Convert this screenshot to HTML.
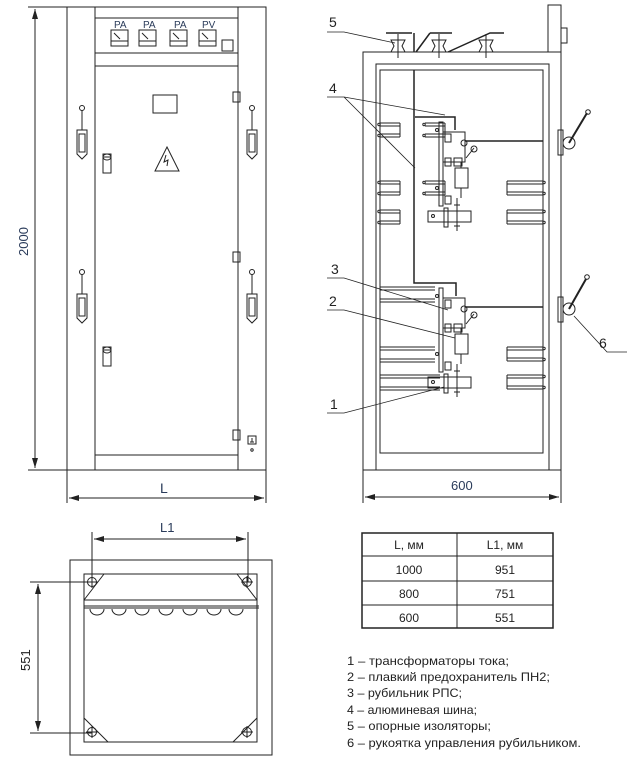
<!DOCTYPE html>
<html><head><meta charset="utf-8"><style>
html,body{margin:0;padding:0;background:#fff}
svg{display:block}
text{font-family:"Liberation Sans","DejaVu Sans",sans-serif;fill:#222}
.d text{fill:#2a3b5a}
</style></head><body>
<svg width="629" height="775" viewBox="0 0 629 775" fill="none" stroke="#222" stroke-width="1">
<defs>
<marker id="a" viewBox="0 0 10 6" refX="10" refY="3" markerWidth="10" markerHeight="6" orient="auto-start-reverse"><path d="M0,0 L10,3 L0,6 z" fill="#222" stroke="none"/></marker>
<g id="handleL">
<circle cx="0" cy="0" r="2.5"/><line x1="0" y1="2.5" x2="0" y2="22"/>
<path d="M-5,22 h10 v24 l-5,5 l-5,-5 z"/><rect x="-3" y="26" width="6" height="18"/>
</g>
<g id="cyl"><rect x="-4" y="0" width="8" height="19"/><ellipse cx="0" cy="3" rx="4" ry="3"/><line x1="-4" y1="3" x2="4" y2="3"/></g>
<g id="meter"><rect x="0" y="0" width="17" height="16"/><line x1="0" y1="11" x2="17" y2="11"/><line x1="3" y1="3" x2="9" y2="9"/></g>
<g id="rail"><path d="M0,0 h20 M0,3 h20 M0,11 h20 M0,14 h20 M20,0 v14"/><circle cx="-1" cy="1.5" r="1.2"/><circle cx="-1" cy="12.5" r="1.2"/></g>
<g id="railR"><path d="M0,0 h-36 M0,3 h-36 M0,11 h-36 M0,14 h-36 M-36,0 v14"/><circle cx="1" cy="1.5" r="1.2"/><circle cx="1" cy="12.5" r="1.2"/></g>
<g id="ins"><path d="M-7,0 h14 l-3,6 l3,6 h-14 l3,-6 z"/><line x1="0" y1="-6" x2="0" y2="18"/></g>
<g id="hole"><circle r="4.5"/><line x1="-6" y1="0" x2="6" y2="0"/><line x1="0" y1="-6" x2="0" y2="6"/></g>
</defs>

<!-- ===== FRONT VIEW ===== -->
<rect x="67" y="7" width="199" height="463"/>
<line x1="95" y1="7" x2="95" y2="470"/><line x1="238" y1="7" x2="238" y2="470"/>
<line x1="95" y1="18" x2="238" y2="18"/><line x1="95" y1="53" x2="238" y2="53"/><line x1="95" y1="66" x2="238" y2="66"/>
<line x1="95" y1="455" x2="238" y2="455"/>
<line x1="28" y1="7" x2="67" y2="7"/><line x1="28" y1="470" x2="67" y2="470"/>
<line x1="35" y1="9" x2="35" y2="468" marker-start="url(#a)" marker-end="url(#a)"/>
<g class="d"><text x="0" y="0" font-size="13" transform="translate(28,256) rotate(-90)" stroke="none">2000</text></g>
<line x1="67" y1="470" x2="67" y2="503"/><line x1="266" y1="470" x2="266" y2="503"/>
<line x1="69" y1="498" x2="264" y2="498" marker-start="url(#a)" marker-end="url(#a)"/>
<g class="d"><text x="160" y="493" font-size="14" stroke="none">L</text>
<text x="114" y="28" font-size="10" stroke="none">PA</text><text x="143" y="28" font-size="10" stroke="none">PA</text>
<text x="174" y="28" font-size="10" stroke="none">PA</text><text x="202" y="28" font-size="10" stroke="none">PV</text></g>
<use href="#meter" x="111" y="30"/><use href="#meter" x="139" y="30"/><use href="#meter" x="170" y="30"/><use href="#meter" x="199" y="30"/>
<rect x="222" y="40" width="11" height="11"/>
<rect x="153" y="95" width="24" height="18"/>
<path d="M167,147 L179,171 L155,171 Z"/><path d="M166,155 l-2,7 l4,-2 l-1,6" />
<use href="#handleL" x="82" y="108"/><use href="#handleL" x="82" y="272"/>
<use href="#handleL" x="252" y="108"/><use href="#handleL" x="252" y="272"/>
<use href="#cyl" x="107" y="154"/><use href="#cyl" x="107" y="347"/>
<rect x="233" y="92" width="7" height="10"/><rect x="233" y="252" width="7" height="10"/><rect x="233" y="430" width="7" height="10"/>
<rect x="248" y="436" width="8" height="8"/><path d="M252,438 v4 M250,442 h4"/><circle cx="252" cy="450" r="1.2"/>

<!-- ===== SIDE VIEW ===== -->
<rect x="363" y="52" width="198" height="418"/>
<rect x="376" y="64" width="173" height="406"/>
<rect x="380" y="70" width="163" height="383"/>
<rect x="548" y="5" width="13" height="47"/><rect x="561" y="28" width="6" height="15"/>
<line x1="363" y1="470" x2="363" y2="503"/><line x1="561" y1="470" x2="561" y2="503"/>
<line x1="365" y1="497" x2="559" y2="497" marker-start="url(#a)" marker-end="url(#a)"/>
<g class="d"><text x="451" y="490" font-size="13" stroke="none">600</text></g>
<!-- insulators -->
<path d="M386,33 h26 M372,52 M414,33 v19" stroke-width="1.5"/>
<path d="M430,33 h22 M416,52 l14,-19 M448,52 l42,-19 h14" stroke-width="1.5"/>
<use href="#ins" x="398" y="40"/><use href="#ins" x="439" y="40"/><use href="#ins" x="486" y="40"/>
<!-- busbar -->
<path d="M414,70 V283 H456 V296 M415,117 H455 V130" stroke-width="1.5"/>
<!-- rails -->
<use href="#rail" x="380" y="123"/><use href="#rail" x="380" y="181"/><use href="#rail" x="380" y="210"/>
<use href="#rail" x="425" y="123"/><use href="#rail" x="425" y="181"/>
<use href="#railR" x="543" y="181"/><use href="#railR" x="543" y="210"/>
<path d="M380,287 h55 M380,290 h55 M380,299 h55 M380,302 h55 M380,347 h55 M380,350 h55 M380,359 h55 M380,362 h55 M380,375 h60 M380,378 h60 M380,387 h60 M380,390 h60"/>
<use href="#railR" x="543" y="347"/><use href="#railR" x="543" y="375"/>
<!-- units -->
<g id="unit">
<rect x="439" y="122" width="4" height="84"/>
<rect x="443" y="132" width="22" height="30"/>
<rect x="445" y="134" width="6" height="8"/><rect x="445" y="158" width="6" height="8"/><rect x="445" y="196" width="6" height="8"/>
<circle cx="464" cy="143" r="3"/><circle cx="474" cy="149" r="3"/><line x1="466" y1="158" x2="474" y2="148"/>
<line x1="465" y1="141" x2="543" y2="141" stroke-width="1.5"/>
<rect x="454" y="158" width="8" height="8"/>
<rect x="455" y="168" width="13" height="20"/><line x1="461" y1="162" x2="461" y2="168"/><line x1="461" y1="188" x2="461" y2="198"/>
<rect x="428" y="211" width="43" height="11"/>
<line x1="457" y1="198" x2="457" y2="231"/><path d="M454,205 h6 M454,226 h6"/>
<rect x="444" y="208" width="4" height="19"/>
<circle cx="433" cy="216" r="1.5"/><circle cx="437" cy="130" r="1.5"/><circle cx="437" cy="188" r="1.5"/>
</g>
<use href="#unit" y="166"/>
<!-- right handles -->
<rect x="558" y="130" width="5" height="25"/><circle cx="569" cy="143" r="6"/><line x1="569" y1="143" x2="587" y2="113" stroke-width="2"/><circle cx="588" cy="112" r="2.3"/>
<rect x="558" y="297" width="5" height="25"/><circle cx="569" cy="309" r="6"/><line x1="569" y1="309" x2="586" y2="279" stroke-width="2"/><circle cx="587" cy="277" r="2.3"/>
<!-- leaders -->
<g stroke-width="0.8">
<path d="M327,32 H344 L395,43"/>
<path d="M327,97 H344 L445,115 M344,97 L415,168"/>
<path d="M327,278 H344 L448,310"/>
<path d="M327,310 H344 L455,338"/>
<path d="M327,413 H344 L444,387"/>
<path d="M627,352 H607 L574,316"/>
</g>
<g stroke="none" font-size="14">
<text x="329" y="27">5</text><text x="329" y="93">4</text><text x="331" y="274">3</text><text x="329" y="306">2</text><text x="330" y="409">1</text><text x="599" y="348">6</text>
</g>

<!-- ===== TOP VIEW ===== -->
<rect x="70" y="560" width="202" height="195"/>
<rect x="84" y="574" width="173" height="168"/>
<path d="M84,600 H257 M84,606 H259 M84,608 H259"/>
<path d="M84,600 L104,574 M257,600 L237,574 M84,718 L108,742 M257,718 L233,742"/>
<g stroke-width="1">
<path d="M90,609 a7,6 0 0 0 14,0 M112,609 a7,6 0 0 0 14,0 M135,609 a7,6 0 0 0 14,0 M159,609 a7,6 0 0 0 14,0 M183,609 a7,6 0 0 0 14,0 M207,609 a7,6 0 0 0 14,0 M229,609 a7,6 0 0 0 14,0"/>
</g>
<use href="#hole" x="92" y="582"/><use href="#hole" x="247" y="582"/><use href="#hole" x="92" y="732"/><use href="#hole" x="247" y="732"/>
<line x1="92" y1="532" x2="92" y2="582"/><line x1="248" y1="532" x2="248" y2="582"/>
<line x1="94" y1="539" x2="246" y2="539" marker-start="url(#a)" marker-end="url(#a)"/>
<g class="d"><text x="160" y="532" font-size="13" stroke="none">L1</text></g>
<line x1="30" y1="582" x2="92" y2="582"/><line x1="30" y1="733" x2="92" y2="733"/>
<line x1="38" y1="584" x2="38" y2="731" marker-start="url(#a)" marker-end="url(#a)"/>
<text x="0" y="0" font-size="13" stroke="none" transform="translate(30,671) rotate(-90)">551</text>

<!-- ===== TABLE ===== -->
<rect x="362" y="533" width="191" height="95" stroke-width="1.5"/>
<path d="M457,533 V628 M362,556 H553 M362,581 H553 M362,605 H553"/>
<g stroke="none" font-size="12" text-anchor="middle">
<text x="409" y="549">L, мм</text><text x="505" y="549">L1, мм</text>
<text x="409" y="574">1000</text><text x="505" y="574">951</text>
<text x="409" y="598">800</text><text x="505" y="598">751</text>
<text x="409" y="622">600</text><text x="505" y="622">551</text>
</g>
<!-- ===== LEGEND ===== -->
<g stroke="none" font-size="12">
<text x="347" y="665" textLength="162" lengthAdjust="spacingAndGlyphs">1 – трансформаторы тока;</text>
<text x="347" y="681" textLength="203" lengthAdjust="spacingAndGlyphs">2 – плавкий предохранитель ПН2;</text>
<text x="347" y="697" textLength="115" lengthAdjust="spacingAndGlyphs">3 – рубильник РПС;</text>
<text x="347" y="714" textLength="130" lengthAdjust="spacingAndGlyphs">4 – алюминевая шина;</text>
<text x="347" y="730" textLength="144" lengthAdjust="spacingAndGlyphs">5 – опорные изоляторы;</text>
<text x="347" y="747" textLength="234" lengthAdjust="spacingAndGlyphs">6 – рукоятка управления рубильником.</text>
</g>
</svg>
</body></html>
